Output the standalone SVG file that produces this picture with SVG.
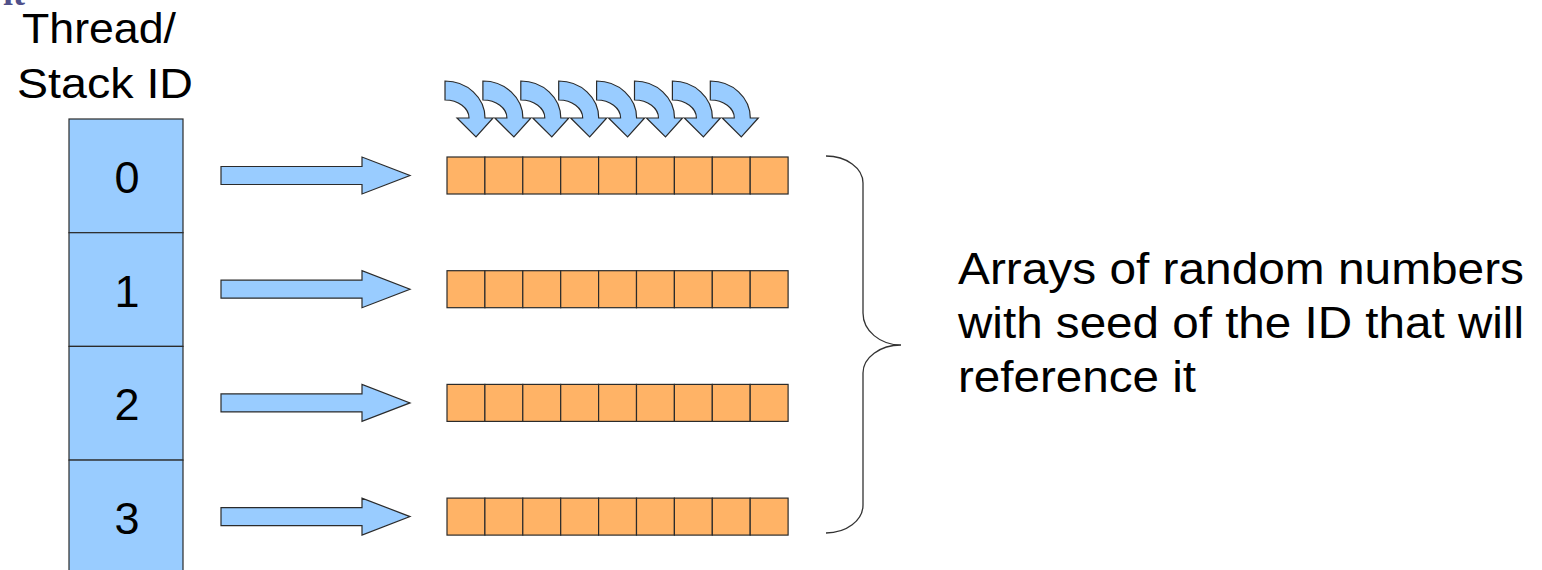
<svg xmlns="http://www.w3.org/2000/svg" width="1542" height="570" viewBox="0 0 1542 570">
  <style>
    .blue { fill: #99ccff; stroke: #2b2b2b; stroke-width: 1.2; }
    .cell { fill: #ffb366; stroke: #2b2b2b; stroke-width: 1.2; }
    .lbl { font-family: "Liberation Sans", Arial, sans-serif; fill: #000; }
    .num { font-family: "Liberation Sans", Arial, sans-serif; font-size: 45px; fill: #000; text-anchor: middle; }
    .brace { fill: none; stroke: #333; stroke-width: 1.3; }
  </style>
  <defs>
    <!-- curved arrow, origin at arc centre -->
    <path id="curl" class="blue" d="M 0 -37 A 40 37 0 0 1 40 0 L 48 0 L 31 19 L 12 0 L 24 0 A 24 18 0 0 0 0 -18 Z"/>
    <!-- block arrow, origin at left end of shaft centre line -->
    <path id="barrow" class="blue" d="M 0 -9 L 141 -9 L 141 -18.5 L 189 0 L 141 18.5 L 141 9 L 0 9 Z"/>
    <g id="arr">
      <rect class="cell" x="0" y="0" width="37.9" height="37"/>
      <rect class="cell" x="37.9" y="0" width="37.9" height="37"/>
      <rect class="cell" x="75.8" y="0" width="37.9" height="37"/>
      <rect class="cell" x="113.7" y="0" width="37.9" height="37"/>
      <rect class="cell" x="151.6" y="0" width="37.9" height="37"/>
      <rect class="cell" x="189.5" y="0" width="37.9" height="37"/>
      <rect class="cell" x="227.4" y="0" width="37.9" height="37"/>
      <rect class="cell" x="265.3" y="0" width="37.9" height="37"/>
      <rect class="cell" x="303.2" y="0" width="37.9" height="37"/>
    </g>
  </defs>

  <!-- clipped title remnant -->
  <text x="3" y="5" font-family="'Liberation Serif', serif" font-weight="bold" font-size="36" fill="#50508a">it</text>

  <!-- column heading -->
  <g id="heading">
    <text class="lbl" x="22" y="43" font-size="43" textLength="154" lengthAdjust="spacingAndGlyphs">Thread/</text>
    <text class="lbl" x="17" y="98" font-size="43" textLength="176" lengthAdjust="spacingAndGlyphs">Stack ID</text>
  </g>

  <!-- thread/stack id column -->
  <g id="stack">
    <rect class="blue" x="69" y="119" width="114" height="113.7"/>
    <rect class="blue" x="69" y="232.7" width="114" height="113.7"/>
    <rect class="blue" x="69" y="346.4" width="114" height="113.7"/>
    <rect class="blue" x="69" y="460.1" width="114" height="120"/>
    <text class="num" x="127" y="193">0</text>
    <text class="num" x="127" y="306.5">1</text>
    <text class="num" x="127" y="420">2</text>
    <text class="num" x="127" y="533.5">3</text>
  </g>

  <!-- shuffle arrows above the first array -->
  <g id="curls">
    <use href="#curl" x="445" y="118"/>
    <use href="#curl" x="482.9" y="118"/>
    <use href="#curl" x="520.8" y="118"/>
    <use href="#curl" x="558.7" y="118"/>
    <use href="#curl" x="596.6" y="118"/>
    <use href="#curl" x="634.5" y="118"/>
    <use href="#curl" x="672.4" y="118"/>
    <use href="#curl" x="710.3" y="118"/>
  </g>

  <!-- connectors from ids to arrays -->
  <g id="connectors">
    <use href="#barrow" x="221" y="175.5"/>
    <use href="#barrow" x="221" y="289.2"/>
    <use href="#barrow" x="221" y="402.9"/>
    <use href="#barrow" x="221" y="516.6"/>
  </g>

  <!-- random number arrays -->
  <g id="array0"><use href="#arr" x="447" y="157"/></g>
  <g id="array1"><use href="#arr" x="447" y="270.7"/></g>
  <g id="array2"><use href="#arr" x="447" y="384.4"/></g>
  <g id="array3"><use href="#arr" x="447" y="498.1"/></g>

  <!-- grouping brace -->
  <path class="brace" d="M 826 156 A 37 27 0 0 1 863 183 L 863 313 A 38 32 0 0 0 901 345 A 38 28 0 0 0 863 373 L 863 505 A 37 28 0 0 1 826 533"/>

  <g id="caption">
    <text class="lbl" x="958" y="284" font-size="45" textLength="566" lengthAdjust="spacingAndGlyphs">Arrays of random numbers</text>
    <text class="lbl" x="958" y="338" font-size="45" textLength="566" lengthAdjust="spacingAndGlyphs">with seed of the ID that will</text>
    <text class="lbl" x="958" y="392" font-size="45" textLength="238" lengthAdjust="spacingAndGlyphs">reference it</text>
  </g>
</svg>
